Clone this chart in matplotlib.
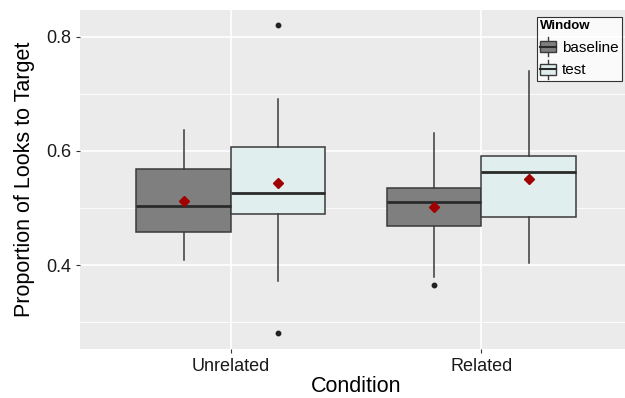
import matplotlib
matplotlib.use("Agg")
import matplotlib.pyplot as plt
from matplotlib.legend_handler import HandlerBase
from matplotlib.patches import Rectangle
from matplotlib.lines import Line2D
from matplotlib.ticker import MultipleLocator

plt.rcParams['font.family'] = ['Liberation Sans', 'DejaVu Sans']

# ---- data ----
conditions = ["Unrelated", "Related"]
windows = ["baseline", "test"]
whislo = {"baseline": [0.409, 0.379], "test": [0.372, 0.404]}
q1 = {"baseline": [0.458, 0.468], "test": [0.489, 0.484]}
med = {"baseline": [0.503, 0.510], "test": [0.526, 0.563]}
q3 = {"baseline": [0.568, 0.535], "test": [0.607, 0.591]}
whishi = {"baseline": [0.637, 0.632], "test": [0.691, 0.740]}
means = {"baseline": [0.512, 0.502], "test": [0.544, 0.551]}
fliers = {"baseline": [[], [0.365]], "test": [[0.821, 0.281], []]}

fills = {"baseline": "#7f7f7f", "test": "#e0eeee"}
edge = "#3a3a3a"

fig = plt.figure(figsize=(6.25, 3.98), dpi=100)
ax = fig.add_axes([80/625, 1-349/398, 552/625, 339/398])
ax.set_facecolor("#ebebeb")
for s in ax.spines.values():
    s.set_visible(False)

width = 0.375
offsets = {"baseline": -width/2, "test": width/2}
for w in windows:
    stats = []
    for i in range(len(conditions)):
        stats.append(dict(med=med[w][i], q1=q1[w][i], q3=q3[w][i],
                          whislo=whislo[w][i], whishi=whishi[w][i],
                          mean=means[w][i], fliers=fliers[w][i]))
    pos = [i + 1 + offsets[w] for i in range(len(conditions))]
    ax.bxp(stats, positions=pos, widths=width, patch_artist=True,
           showmeans=True, showcaps=False, manage_ticks=False,
           boxprops=dict(facecolor=fills[w], edgecolor=edge, linewidth=1.1),
           medianprops=dict(color="#2a2a2a", linewidth=2.0),
           whiskerprops=dict(color=edge, linewidth=1.1),
           flierprops=dict(marker="o", markersize=3.2, markerfacecolor="#222222",
                           markeredgecolor="#222222"),
           meanprops=dict(marker="D", markersize=5, markerfacecolor="#a00000",
                          markeredgecolor="#a00000"), zorder=3)

ax.set_xlim(0.4, 2.6)
ax.set_ylim(0.253, 0.847)
ax.set_xticks([1, 2])
ax.set_xticklabels(conditions)
ax.yaxis.set_major_locator(MultipleLocator(0.2))
ax.yaxis.set_minor_locator(MultipleLocator(0.1))
ax.set_yticks([0.4, 0.6, 0.8])
ax.set_yticklabels(["0.4", "0.6", "0.8"])
ax.grid(which="major", color="white", linewidth=1.2, zorder=0)
ax.grid(which="minor", axis="y", color="white", linewidth=0.6, zorder=0)
ax.set_axisbelow(True)
ax.tick_params(axis="both", which="major", labelsize=13, color="#333333",
               length=3, labelcolor="#1a1a1a")
ax.tick_params(axis="y", which="minor", length=0)
ax.set_xlabel("Condition", fontsize=15.5, color="black", labelpad=1)
ax.set_ylabel("Proportion of Looks to Target", fontsize=15.5, color="black", labelpad=8)


class BoxHandler(HandlerBase):
    def __init__(self, fill):
        super().__init__()
        self.fill = fill

    def create_artists(self, legend, orig_handle, xdescent, ydescent, width, height, fontsize, trans):
        cx = -xdescent + width/2
        bw = width * 0.95
        y0 = -ydescent
        arts = [
            Line2D([cx, cx], [y0 - height*0.2, y0 + height*1.2], color=edge, lw=1.0, transform=trans),
            Rectangle((cx - bw/2, y0 + height*0.1), bw, height*0.8, facecolor=self.fill,
                      edgecolor=edge, lw=1.0, transform=trans),
            Line2D([cx - bw/2, cx + bw/2], [y0 + height*0.5]*2, color="#2a2a2a", lw=1.5, transform=trans),
        ]
        return arts


handles = [Rectangle((0, 0), 1, 1) for _ in windows]
hmap = {h: BoxHandler(fills[w]) for h, w in zip(handles, windows)}
leg = fig.legend(handles, windows, handler_map=hmap, title="Window",
                 loc="upper left", bbox_to_anchor=(537/625, 1-17/398),
                 fontsize=11, title_fontsize=9.5, frameon=True, fancybox=False,
                 edgecolor="black", handlelength=1.1, handleheight=1.0,
                 handletextpad=0.35, borderpad=0.2, labelspacing=0.5,
                 borderaxespad=0)
leg._legend_box.align = "left"
leg.get_frame().set_linewidth(0.8)
leg.get_title().set_fontweight("bold")

fig.savefig("out.png", dpi=100)
